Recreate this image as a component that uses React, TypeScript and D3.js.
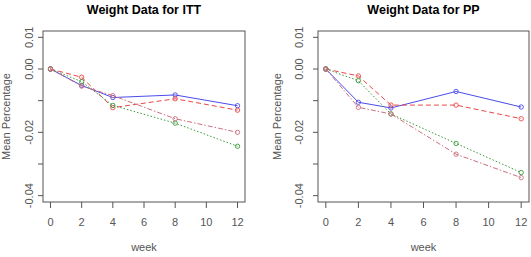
import React from "react";
import * as d3 from "d3";

const weeks = [0, 2, 4, 8, 12];
const xTicks = [0, 2, 4, 6, 8, 10, 12];
const yTicks = [0.01, 0, -0.01, -0.02, -0.03, -0.04];
const yTickLabels = ["0.01", "0.00", "", "-0.02", "", "-0.04"];

const seriesNames = ["A", "B", "C", "D"];
const seriesColors = ["#4b4bec", "#ec4646", "#3a9a3a", "#cc6f80"];
const seriesDash = ["", "5,3", "1.5,2", "5,2,1.5,2"];

const ittA = [0, -0.0052, -0.009, -0.0082, -0.0116];
const ittB = [0, -0.0026, -0.0122, -0.0094, -0.013];
const ittC = [0, -0.004, -0.0115, -0.0171, -0.0244];
const ittD = [0, -0.0054, -0.0084, -0.0157, -0.02];

const ppA = [0, -0.0105, -0.0123, -0.0071, -0.012];
const ppB = [0, -0.0022, -0.0114, -0.0114, -0.0157];
const ppC = [0, -0.0037, -0.0142, -0.0235, -0.0327];
const ppD = [0, -0.0121, -0.0142, -0.0269, -0.0343];

const itt = [ittA, ittB, ittC, ittD];
const pp = [ppA, ppB, ppC, ppD];

const font = "Liberation Sans, Arial, sans-serif";

function Panel({ title, data, left, right, tickLabelX, yLabelX }: any) {
  const top = 31;
  const bottom = 202;
  const x = d3.scaleLinear().domain([-0.48, 12.48]).range([left, right]);
  const y = d3.scaleLinear().domain([-0.042, 0.012]).range([bottom, top]);
  const line = d3
    .line<number>()
    .x((_, i) => x(weeks[i]))
    .y((d) => y(d));
  const cx = (left + right) / 2;
  const cy = (top + bottom) / 2;
  return (
    <g>
      <text x={cx} y={14} textAnchor="middle" fontFamily={font} fontWeight="bold" fontSize={12.5} fill="#000">
        {title}
      </text>
      <rect x={left} y={top} width={right - left} height={bottom - top} fill="none" stroke="#555" strokeWidth={1} />
      {xTicks.map((t) => (
        <g key={"x" + t}>
          <line x1={x(t)} x2={x(t)} y1={bottom} y2={bottom + 6} stroke="#555" />
          <text x={x(t)} y={226} textAnchor="middle" fontFamily={font} fontSize={11} fill="#555">
            {t}
          </text>
        </g>
      ))}
      {yTicks.map((t, i) => (
        <g key={"y" + i}>
          <line x1={left - 5} x2={left} y1={y(t)} y2={y(t)} stroke="#555" />
          {yTickLabels[i] && (
            <text
              transform={`translate(${tickLabelX},${y(t)}) rotate(-90)`}
              textAnchor="middle"
              fontFamily={font}
              fontSize={11}
              fill="#555"
            >
              {yTickLabels[i]}
            </text>
          )}
        </g>
      ))}
      <text x={cx} y={251} textAnchor="middle" fontFamily={font} fontSize={11} fill="#555">
        week
      </text>
      <text
        transform={`translate(${yLabelX},${cy}) rotate(-90)`}
        textAnchor="middle"
        fontFamily={font}
        fontSize={11}
        fill="#555"
      >
        Mean Percentage
      </text>
      {data.map((s: number[], k: number) => (
        <g key={seriesNames[k]}>
          <path d={line(s) || ""} fill="none" stroke={seriesColors[k]} strokeWidth={1} strokeDasharray={seriesDash[k]} />
          {s.map((v, i) => (
            <circle key={i} cx={x(weeks[i])} cy={y(v)} r={2.2} fill="none" stroke={seriesColors[k]} strokeWidth={0.9} />
          ))}
        </g>
      ))}
    </g>
  );
}

export default function App() {
  return (
    <svg width={531} height={257} style={{ position: "absolute", left: 0, top: 0, background: "#fff" }}>
      <rect width={531} height={257} fill="#fff" />
      <Panel title="Weight Data for ITT" data={itt} left={43} right={245} tickLabelX={33} yLabelX={10} />
      <Panel title="Weight Data for PP" data={pp} left={318} right={529} tickLabelX={303} yLabelX={281} />
    </svg>
  );
}
